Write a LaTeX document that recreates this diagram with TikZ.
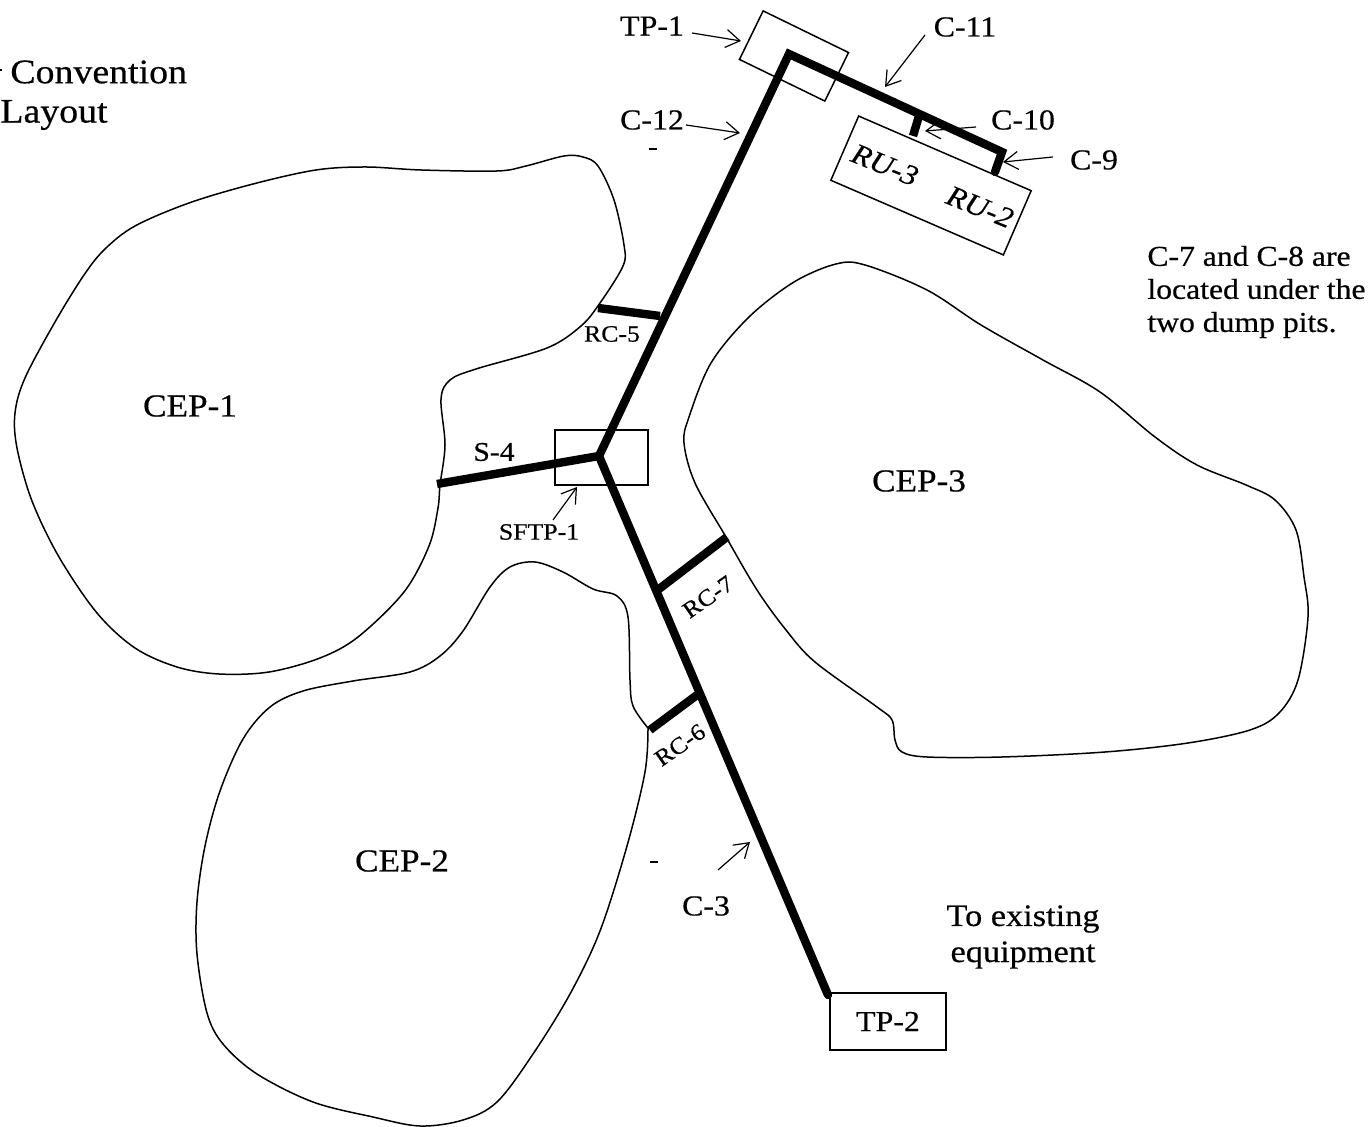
\documentclass[tikz,border=0pt]{standalone}
\usepackage{fontspec}
\setmainfont[FakeStretch=1.1,FakeBold=0.5]{Liberation Serif}
\usetikzlibrary{arrows.meta}
\tikzset{
  thin line/.style={line width=0.75pt,black},
  outline/.style={thin line},
  box/.style={draw,thin line,inner sep=0pt,fill=none},
  conveyor/.style={line width=4.2pt,black,line cap=round,line join=miter},
  callout/.style={line width=0.6pt,-{Straight Barb[length=7pt,width=9pt,line width=0.6pt]}},
  lab/.style={inner sep=0pt,font=\fontsize{14.5}{16}\selectfont},
  small lab/.style={inner sep=0pt,font=\fontsize{11.7}{13}\selectfont},
  note/.style={inner sep=0pt,anchor=west,font=\fontsize{14.4}{16}\selectfont},
  area/.style={inner sep=0pt,font=\fontsize{16}{18}\selectfont},
  title/.style={inner sep=0pt,anchor=west,font=\fontsize{17.2}{19}\selectfont},
  remark/.style={inner sep=0pt,font=\fontsize{15.6}{17}\selectfont},
  speck/.style={line width=1.4pt,black}
}
\begin{document}
\begin{tikzpicture}[x=0.5pt,y=-0.5pt]
\useasboundingbox (0,0) rectangle (1371,1127);
% area outlines
\draw[outline] plot[smooth cycle,tension=0.55] coordinates {
 (440,485)(445,445)(441,399)(450,380)(476,369)(547,348)(581,326)(600,303)(623,266)(624,245)(614,200)(598,166)(583,157)(564,156)(526,166)(497,171)(421,170)(366,167)(316,170)(253,184)(189,203)(135,226)(105,249)(84,275)(55,322)(25,378)(15,413)(17,448)(32,501)(59,557)(97,613)(135,648)(177,667)(219,674)(269,672)(320,658)(358,637)(404,592)(429,546)(438,508)};
\draw[outline] plot[smooth,tension=0.55] coordinates {
 (648,728)(633,706)(630,680)(628,617)(617,596)(593,589)(563,572)(535,562)(510,567)(490,587)(463,631)(440,656)(410,672)(353,681)(303,691)(270,707)(243,739)(220,791)(205,846)(197,902)(197,954)(207,1013)(223,1044)(257,1074)(313,1102)(373,1117)(420,1126)(463,1120)(497,1102)(533,1054)(570,994)(600,931)(627,846)(645,772)(648,728)};
\draw[outline] plot[smooth cycle,tension=0.55] coordinates {
 (726,537)(695,483)(684,443)(689,417)(711,363)(749,317)(794,282)(836,264)(865,265)(927,290)(981,325)(1043,360)(1100,392)(1155,437)(1197,465)(1246,485)(1275,500)(1296,530)(1304,577)(1308,617)(1298,680)(1279,713)(1250,730)(1188,743)(1105,752)(1002,757)(927,757)(902,752)(895,740)(892,720)(877,707)(815,662)(786,630)(757,590)};
% boxes
\node[box,rotate=-26,minimum width=47.5pt,minimum height=27pt] (tp1box) at (794,56) {};
\node[box,rotate=-23.4,minimum width=94pt,minimum height=35pt] (rubox) at (931,185.5) {};
\node[box,minimum width=46.5pt,minimum height=27.5pt] (sftpbox) at (601.5,457.5) {};
\node[box,minimum width=58pt,minimum height=28.5pt] (tp2box) at (888,1021.5) {\fontsize{14.5}{16}\selectfont TP-2};
% conveyor junctions
\coordinate (apex) at (789,54);
\coordinate (junction) at (599,456);
\coordinate (tail) at (828,995);
\coordinate (corner) at (1002,152);
\coordinate (c9end) at (995,172);
\coordinate (c10top) at (919,116);
\coordinate (c10end) at (913,136);
\coordinate (s4end) at (437,484);
\coordinate (rc5a) at (598,308);
\coordinate (rc5b) at (660,316);
\coordinate (rc7a) at (659,589);
\coordinate (rc7b) at (727,537);
\coordinate (rc6a) at (650,730);
\coordinate (rc6b) at (697,695);
% conveyors
\draw[conveyor,line cap=butt] (rc5a) -- (rc5b);
\draw[conveyor,line cap=butt] (rc7a) -- (rc7b);
\draw[conveyor,line cap=butt] (rc6a) -- (rc6b);
\draw[conveyor,line cap=butt] (c10top) -- (c10end);
\draw[conveyor,line cap=butt] (s4end) -- (junction);
\draw[conveyor] (tail) -- (junction) -- (apex) -- (corner) -- (c9end);
% callout labels
\node[lab] (tp1lab) at (652,26) {TP-1};
\node[lab] (c11lab) at (965,27) {C-11};
\node[lab] (c12lab) at (652,120) {C-12};
\node[lab] (c10lab) at (1023,120) {C-10};
\node[lab] (c9lab) at (1094,160) {C-9};
\node[small lab] (sftplab) at (539,532) {SFTP-1};
\node[lab] (c3lab) at (706,906) {C-3};
\coordinate (tp1a) at (692,33);   \coordinate (tp1t) at (741,41);
\coordinate (c11a) at (925,35);   \coordinate (c11t) at (885,87);
\coordinate (c12a) at (686,125);  \coordinate (c12t) at (740,133);
\coordinate (c10a) at (976,127);  \coordinate (c10t) at (925,131);
\coordinate (c9a)  at (1053,157); \coordinate (c9t)  at (1003,162);
\coordinate (sfa)  at (553,520);  \coordinate (sft)  at (577,487);
\coordinate (c3a)  at (718,870);  \coordinate (c3t)  at (750,842);
\draw[callout] (tp1a) -- (tp1t);
\draw[callout] (c11a) -- (c11t);
\draw[callout] (c12a) -- (c12t);
\draw[callout] (c10a) -- (c10t);
\draw[callout] (c9a) -- (c9t);
\draw[callout] (sfa) -- (sft);
\draw[callout] (c3a) -- (c3t);
% other labels
\node[title] (conv) at (10,72) {Convention};
\node[title] (layout) at (0,115) {Layout};
\node[note] (n1) at (1147,256) {C-7 and C-8 are};
\node[note] (n2) at (1147,289) {located under the};
\node[note] (n3) at (1147,325) {two dump pits.};
\node[area] (cep1) at (190,406) {CEP-1};
\node[area] (cep2) at (402,861) {CEP-2};
\node[area] (cep3) at (919,481) {CEP-3};
\node[lab,rotate=-22,font=\fontsize{14.5}{16}\selectfont\itshape] (ru3) at (885,165) {RU-3};
\node[lab,rotate=-22,font=\fontsize{14.5}{16}\selectfont\itshape] (ru2) at (980,207) {RU-2};
\node[small lab] (rc5) at (612,334) {RC-5};
\node[small lab,rotate=35] (rc7) at (708,597) {RC-7};
\node[small lab,rotate=35] (rc6) at (680,745) {RC-6};
\node[lab,font=\fontsize{13.5}{15}\selectfont] (s4) at (494,452) {S-4};
\node[remark] (ex1) at (1023,919) {To existing};
\node[remark] (ex2) at (1023,955) {equipment};
% specks
\coordinate (sp1a) at (649,149); \coordinate (sp1b) at (657,149);
\coordinate (sp2a) at (650,862); \coordinate (sp2b) at (658,862);
\coordinate (sp3a) at (0,70); \coordinate (sp3b) at (2,70);
\draw[speck] (sp1a) -- (sp1b);
\draw[speck] (sp2a) -- (sp2b);
\draw[speck] (sp3a) -- (sp3b);
\end{tikzpicture}
\end{document}
